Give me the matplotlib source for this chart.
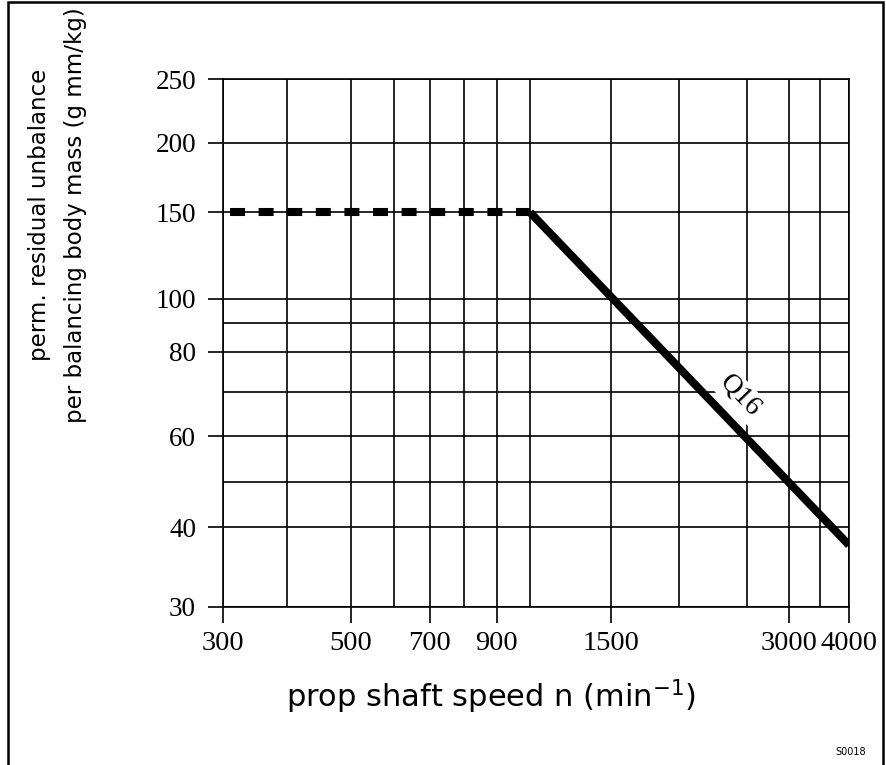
import matplotlib
matplotlib.use("Agg")
import matplotlib.pyplot as plt
import numpy as np
from matplotlib.ticker import FixedLocator, FixedFormatter, NullFormatter
from matplotlib.patches import Rectangle

# data
flat_n = [300, 1000]
flat_u = [150, 150]
q16_n = [1000, 4000]
q16_u = [150, 37.5]

x_major = [300, 500, 700, 900, 1500, 3000, 4000]
x_minor = [400, 600, 800, 1000, 2000, 2500, 3500]
y_major = [30, 40, 60, 80, 100, 150, 200, 250]
y_minor = [50, 70, 90]

# the printed chart uses a hand drawn (non uniform) log grid,
# calibrate a piecewise scale from where its grid lines sit
x_cal_v = [300, 400, 500, 600, 700, 800, 900, 1000, 1500, 2000, 2500, 3000, 3500, 4000]
x_cal_p = [222.7, 287, 350.5, 394, 430, 464, 496.5, 530, 611, 678.5, 746.5, 789, 820, 849]
y_cal_v = [30, 40, 50, 60, 70, 80, 90, 100, 150, 200, 250]
y_cal_p = [-606.7, -527.3, -482.3, -436, -392, -351.7, -323.3, -299, -212.3, -142.7, -79.3]


def make_scale(vals, pos):
    lv = np.log10(vals)
    pos = np.asarray(pos, float)

    def fwd(v):
        v = np.clip(np.asarray(v, float), 1e-6, None)
        return np.interp(np.log10(v), lv, pos)

    def inv(p):
        return 10 ** np.interp(np.asarray(p, float), pos, lv)

    return fwd, inv


W, H = 886, 765
fig = plt.figure(figsize=(W / 100, H / 100), dpi=100)
ax = fig.add_axes([222.7 / W, 1 - 606.7 / H, (849 - 222.7) / W, (606.7 - 79.3) / H])

ax.set_xscale("function", functions=make_scale(x_cal_v, x_cal_p))
ax.set_yscale("function", functions=make_scale(y_cal_v, y_cal_p))
ax.set_xlim(300, 4000)
ax.set_ylim(30, 250)

ax.xaxis.set_major_locator(FixedLocator(x_major))
ax.xaxis.set_major_formatter(FixedFormatter([str(v) for v in x_major]))
ax.xaxis.set_minor_locator(FixedLocator(x_minor))
ax.xaxis.set_minor_formatter(NullFormatter())
ax.yaxis.set_major_locator(FixedLocator(y_major))
ax.yaxis.set_major_formatter(FixedFormatter([str(v) for v in y_major]))
ax.yaxis.set_minor_locator(FixedLocator(y_minor))
ax.yaxis.set_minor_formatter(NullFormatter())

ax.set_axisbelow(True)
ax.grid(True, which="both", color="black", lw=1.2)
for s in ax.spines.values():
    s.set_linewidth(1.2)

ax.tick_params(axis="x", which="major", length=11.5, width=1.2, pad=6)
ax.tick_params(axis="y", which="major", length=10.6, width=1.2, pad=8.6)
ax.tick_params(which="minor", length=0)
for lab in ax.get_xticklabels():
    lab.set_fontfamily("Liberation Serif")
    lab.set_fontsize(20.5)
for lab in ax.get_yticklabels():
    lab.set_fontfamily("Liberation Serif")
    lab.set_fontsize(19.5)

lw = 5.8
ax.plot(flat_n, flat_u, color="black", lw=lw, solid_capstyle="butt",
        dash_capstyle="butt", linestyle=(2.68, (1.862, 1.688)), zorder=3)
ax.plot(q16_n, q16_u, color="black", lw=lw, solid_capstyle="butt", zorder=3)

ax.text(2450, 69, "Q16", fontfamily="Liberation Serif", fontsize=20, rotation=-46,
        rotation_mode="anchor", ha="center", va="center", zorder=2.5,
        bbox=dict(facecolor="white", edgecolor="none", pad=2))

plt.rcParams["mathtext.default"] = "regular"
fig.text(491 / W, 1 - 697 / H, "prop shaft speed n (min$^{-1}$)", fontfamily="DejaVu Sans",
         fontsize=22, ha="center", va="center")
fig.text(40 / W, 1 - 215 / H, "perm. residual unbalance", fontfamily="DejaVu Sans",
         fontsize=16.5, rotation=90, ha="center", va="center")
fig.text(76 / W, 1 - 215 / H, "per balancing body mass (g mm/kg)", fontfamily="DejaVu Sans",
         fontsize=16.5, rotation=90, ha="center", va="center")
fig.text(851 / W, 1 - 752 / H, "S0018", fontfamily="DejaVu Sans", fontsize=7, ha="center", va="center")

fig.add_artist(Rectangle((7.5 / W, -0.02), (883 - 7.5) / W, (H - 2.5) / H + 0.02, fill=False,
                         lw=1.8, edgecolor="black", transform=fig.transFigure))

fig.savefig("out.png", dpi=100)
